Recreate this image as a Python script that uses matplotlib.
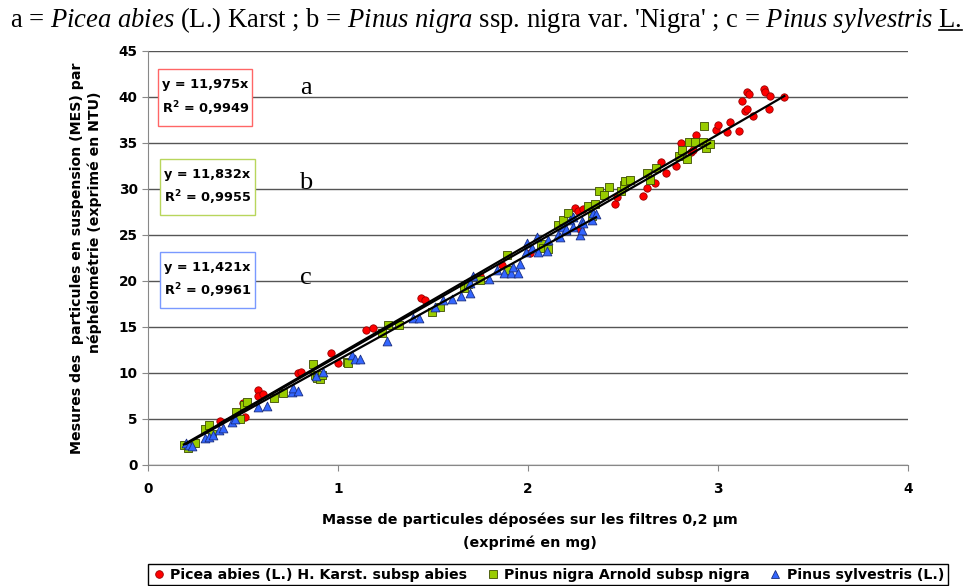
import numpy as np
import matplotlib.pyplot as plt
from matplotlib.lines import Line2D
from matplotlib.patches import Rectangle

plt.rcParams['font.family'] = ['DejaVu Sans']
plt.rcParams['mathtext.fontset'] = 'custom'
plt.rcParams['mathtext.it'] = 'Liberation Serif:italic'
plt.rcParams['mathtext.rm'] = 'Liberation Serif'
plt.rcParams['mathtext.default'] = 'regular'

# Picea abies (red circles)
picea_x = [0.379, 0.502, 0.511, 0.581, 0.581, 0.604, 0.788, 0.805, 0.963, 0.998,
           1.146, 1.186, 1.437, 1.458, 1.747, 1.861, 2.010, 2.247, 2.265, 2.288,
           2.274, 2.458, 2.470, 2.605, 2.625, 2.668, 2.700, 2.725, 2.780, 2.805,
           2.860, 2.870, 2.884, 2.988, 3.000, 3.049, 3.063, 3.110, 3.125, 3.142,
           3.151, 3.151, 3.163, 3.186, 3.242, 3.249, 3.270, 3.274, 3.349]
picea_y = [4.82, 6.70, 5.25, 8.15, 7.50, 7.68, 9.96, 10.15, 12.20, 11.05,
           14.67, 14.85, 18.10, 17.90, 20.50, 21.70, 23.00, 27.90, 27.64, 27.80,
           25.60, 28.37, 29.10, 29.27, 30.07, 30.60, 32.90, 31.70, 32.50, 34.96,
           34.06, 34.20, 35.90, 36.40, 36.96, 36.20, 37.25, 36.30, 39.60, 38.50,
           38.70, 40.58, 40.36, 37.90, 40.83, 40.54, 38.70, 40.10, 40.04]

# Pinus nigra (green squares)
nigra_x = [0.189, 0.212, 0.247, 0.300, 0.323, 0.335, 0.461, 0.484, 0.505, 0.519,
           0.663, 0.712, 0.870, 0.879, 0.888, 0.905, 0.914, 1.046, 1.054, 1.230,
           1.261, 1.321, 1.493, 1.537, 1.665, 1.686, 1.747, 1.888, 1.893, 2.068,
           2.081, 2.107, 2.156, 2.186, 2.212, 2.317, 2.335, 2.353, 2.375, 2.400,
           2.426, 2.489, 2.507, 2.510, 2.537, 2.626, 2.640, 2.672, 2.795, 2.809,
           2.838, 2.849, 2.879, 2.923, 2.926, 2.937, 2.958]
nigra_y = [2.17, 1.88, 2.35, 3.87, 4.35, 3.37, 5.80, 4.96, 6.52, 6.88,
           7.25, 7.79, 10.95, 9.78, 9.42, 9.35, 9.78, 11.23, 11.05, 14.30,
           15.20, 15.20, 16.67, 17.20, 19.20, 19.67, 20.10, 22.80, 21.20, 24.00,
           23.55, 23.50, 26.10, 26.60, 27.35, 28.10, 27.07, 28.37, 29.80, 29.35,
           30.25, 29.80, 30.43, 30.90, 30.98, 31.70, 30.98, 32.30, 33.60, 34.20,
           33.26, 35.07, 35.07, 35.10, 36.80, 34.50, 34.85]

# Pinus sylvestris (blue triangles)
sylv_x = [0.200, 0.218, 0.230, 0.300, 0.323, 0.340, 0.375, 0.396, 0.440, 0.458,
          0.581, 0.625, 0.756, 0.765, 0.791, 0.884, 0.923, 1.072, 1.089, 1.116,
          1.259, 1.396, 1.426, 1.510, 1.554, 1.598, 1.646, 1.695, 1.695, 1.710,
          1.796, 1.835, 1.874, 1.910, 1.923, 1.949, 1.958, 1.988, 1.993, 2.019,
          2.046, 2.054, 2.098, 2.107, 2.160, 2.168, 2.186, 2.200, 2.200, 2.220,
          2.237, 2.239, 2.274, 2.283, 2.283, 2.291, 2.335, 2.344, 2.358]
sylv_y = [2.35, 2.17, 2.07, 2.97, 3.08, 3.26, 3.80, 3.99, 4.64, 4.96,
          6.34, 6.45, 7.97, 8.33, 8.08, 9.70, 10.08, 11.96, 11.50, 11.49,
          13.48, 16.00, 16.00, 17.20, 17.90, 18.00, 18.40, 18.66, 19.75, 20.50,
          20.20, 21.20, 20.90, 20.90, 21.55, 20.90, 21.90, 23.20, 24.10, 23.60,
          24.80, 23.10, 23.30, 24.50, 25.00, 24.80, 25.90, 25.50, 25.70, 26.60,
          27.00, 25.90, 25.00, 25.54, 26.55, 26.27, 26.60, 27.35, 27.24]

slopes = [11.975, 11.832, 11.421]
r2 = ['0,9949', '0,9955', '0,9961']
letters = ['a', 'b', 'c']
legend_labels = ['Picea abies (L.) H. Karst. subsp abies',
                 'Pinus nigra Arnold subsp nigra',
                 'Pinus sylvestris (L.)']

colors = ['#ff0000', '#99cc00', '#3366ff']
edges = ['#990000', '#3d4d00', '#1a2e80']
box_edges = ['#ff6666', '#b8d65c', '#7a99ff']
markers = ['o', 's', '^']
sizes = [28, 36, 40]

W, H = 972, 586
fig = plt.figure(figsize=(W/100, H/100), dpi=100)
ax = fig.add_axes([148/W, 1-465/H, 760/W, 414/H])

series = [(picea_x, picea_y), (nigra_x, nigra_y), (sylv_x, sylv_y)]
for i, (xs, ys) in enumerate(series):
    ax.scatter(xs, ys, s=sizes[i], marker=markers[i], c=colors[i],
               edgecolors=edges[i], linewidths=0.6, zorder=3)
for i, (xs, ys) in enumerate(series):
    xl = np.array([min(xs), max(xs)])
    ax.plot(xl, slopes[i]*xl, color='black', lw=1.6, zorder=4)

ax.set_xlim(0, 4)
ax.set_ylim(0, 45)
ax.set_xticks(range(0, 5))
ax.set_yticks(range(0, 50, 5))
ax.yaxis.grid(True, color='#555555', lw=1)
ax.set_axisbelow(True)
for s in ['top', 'right']:
    ax.spines[s].set_visible(False)
for s in ['left', 'bottom']:
    ax.spines[s].set_color('#888888')
ax.tick_params(axis='both', direction='out', length=4, color='#888888',
               labelsize=9.8)
ax.tick_params(axis='y', pad=3.5)
ax.tick_params(axis='x', pad=8.5)
for lab in ax.get_xticklabels() + ax.get_yticklabels():
    lab.set_fontweight('bold')

# equation boxes (pixel layout) and letters
box_x = [(158, 252), (160, 255), (160, 255)]
box_y = [(69, 126), (159, 215), (252, 308)]
letter_y = [41.0, 30.65, 20.3]
for i in range(3):
    x0, x1 = box_x[i]
    y0, y1 = box_y[i]
    fig.add_artist(Rectangle((x0/W, 1-y1/H), (x1-x0)/W, (y1-y0)/H,
                             transform=fig.transFigure, fc='white',
                             ec=box_edges[i], lw=1, zorder=5))
    txt = f'y = {slopes[i]:.3f}x'.replace('.', ',') + '\n' + f'R$^2$ = {r2[i]}'
    fig.text((x0+4)/W, 1-((y0+y1)/2 + 0.5)/H, txt, fontsize=9.3,
             fontweight='bold', va='center', ha='left', linespacing=1.6,
             zorder=6)
    ax.text(0.83, letter_y[i], letters[i], family='Liberation Serif', fontsize=19,
            ha='center', va='center')

# axis labels
fig.text(77/W, 1-258/H, 'Mesures des  particules en suspension (MES) par',
         rotation=90, ha='center', va='center', fontsize=10.2, fontweight='bold')
fig.text(95/W, 1-222/H, 'néphélométrie (exprimé en NTU)',
         rotation=90, ha='center', va='center', fontsize=10.2, fontweight='bold')
fig.text(530/W, 1-520/H, 'Masse de particules déposées sur les filtres 0,2 µm',
         ha='center', va='center', fontsize=10.3, fontweight='bold')
fig.text(530/W, 1-543/H, '(exprimé en mg)',
         ha='center', va='center', fontsize=10.3, fontweight='bold')

# title
tsize = 19.2
title = (r"a = $\mathit{Picea\ abies}$ (L.) Karst ; b = $\mathit{Pinus\ nigra}$ "
         r"ssp. nigra var. 'Nigra' ; c = $\mathit{Pinus\ sylvestris}$ L.")
t = fig.text(10/W, 1-27/H, title, family='Liberation Serif', fontsize=tsize,
             va='baseline', ha='left')

# legend
handles = [Line2D([], [], marker=markers[i], linestyle='', markerfacecolor=colors[i],
                  markeredgecolor=edges[i], markeredgewidth=0.6, markersize=5.5)
           for i in range(3)]
leg = fig.legend(handles, legend_labels, loc='upper center',
                 bbox_to_anchor=(548/W, 1-564/H), ncol=3, frameon=True,
                 fancybox=False, edgecolor='black', framealpha=1,
                 prop={'size': 10.2, 'weight': 'bold'}, handletextpad=0.3,
                 columnspacing=1.3, borderpad=0.25, borderaxespad=0,
                 handlelength=1.0)
leg.get_frame().set_linewidth(1.0)

# underline the final "L."
fig.canvas.draw()
bb = t.get_window_extent()
tmp = fig.text(0, 0, 'L.', family='Liberation Serif', fontsize=tsize)
w = tmp.get_window_extent().width
tmp.remove()
yb = (1-27/H)*H - 3
fig.add_artist(Line2D([(bb.x1 - w)/W, bb.x1/W], [yb/H, yb/H],
                      transform=fig.transFigure, color='black', lw=1.2))

fig.savefig('out.png', dpi=100)
